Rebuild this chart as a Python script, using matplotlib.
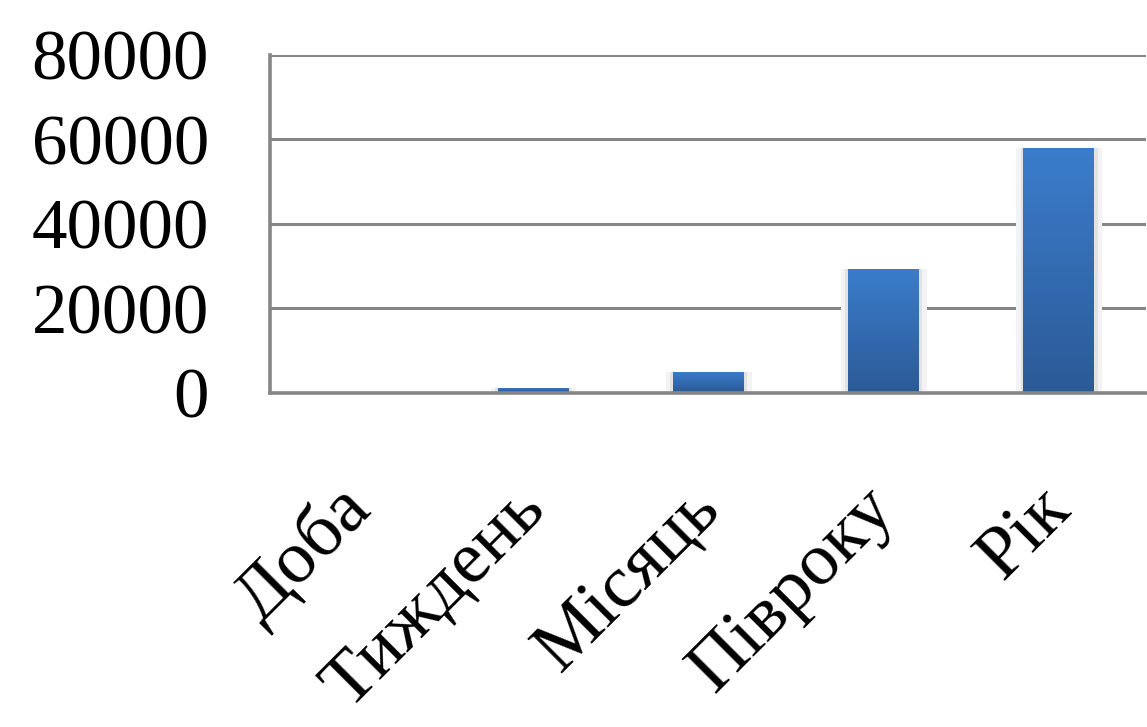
import matplotlib
matplotlib.use("Agg")
import matplotlib.pyplot as plt
import matplotlib.transforms as mtransforms
from matplotlib.colors import LinearSegmentedColormap
import numpy as np

categories = ["Доба", "Тиждень", "Місяць", "Півроку", "Рік"]
values = [160, 1120, 4800, 29200, 58000]
yticks = [0, 20000, 40000, 60000, 80000]

W, H = 1147, 727
fig = plt.figure(figsize=(W / 100, H / 100), dpi=100)
ax = fig.add_axes([270 / W, (H - 392.5) / H, 876 / W, 337.5 / H])

x = np.arange(len(categories))
# soft shadow behind bars
ax.bar(x + 0.004, values, width=0.49, color="#f3f3f3", zorder=2, linewidth=0)
ax.bar(x + 0.004, values, width=0.44, color="#e2e2e2", zorder=2, linewidth=0)
bars = ax.bar(x, values, width=0.4, color="#3572bd", zorder=3, linewidth=0)

# vertical gradient inside each bar
grad = np.linspace(0, 1, 256).reshape(-1, 1)
cmap = LinearSegmentedColormap.from_list("g", ["#2c5a97", "#3b7dcc"])
for b in bars:
    x0, y0 = b.get_x(), b.get_y()
    w, h = b.get_width(), b.get_height()
    im = ax.imshow(grad, extent=(x0, x0 + w, y0, y0 + h), origin="lower",
                   cmap=cmap, aspect="auto", zorder=4)
    im.set_clip_path(b)

ax.set_xlim(-0.5, len(categories) - 0.5)
ax.set_ylim(0, 80000)
ax.set_yticks(yticks)
ax.set_yticklabels([str(v) for v in yticks])
ax.set_xticks(x)
ax.set_xticklabels(categories)

grid_c = "#868686"
ax.yaxis.grid(True, color=grid_c, linewidth=2.2, zorder=1)
ax.set_axisbelow(True)
for s in ["top", "right"]:
    ax.spines[s].set_visible(False)
for s in ["left", "bottom"]:
    ax.spines[s].set_color(grid_c)
    ax.spines[s].set_linewidth(2.6)
    ax.spines[s].set_zorder(5)

ax.tick_params(axis="both", length=0)
ax.tick_params(axis="y", pad=44)
for lab in ax.get_yticklabels():
    lab.set_fontfamily("Liberation Serif")
    lab.set_fontsize(51)
    lab.set_color("black")

offset = mtransforms.ScaledTranslation(2 / 100, -101 / 100, fig.dpi_scale_trans)
for lab in ax.get_xticklabels():
    lab.set_fontfamily("Liberation Serif")
    lab.set_fontsize(54)
    lab.set_rotation(45)
    lab.set_rotation_mode("anchor")
    lab.set_ha("right")
    lab.set_va("center")
    lab.set_transform(lab.get_transform() + offset)

fig.savefig("out.png", dpi=100, facecolor="white")
